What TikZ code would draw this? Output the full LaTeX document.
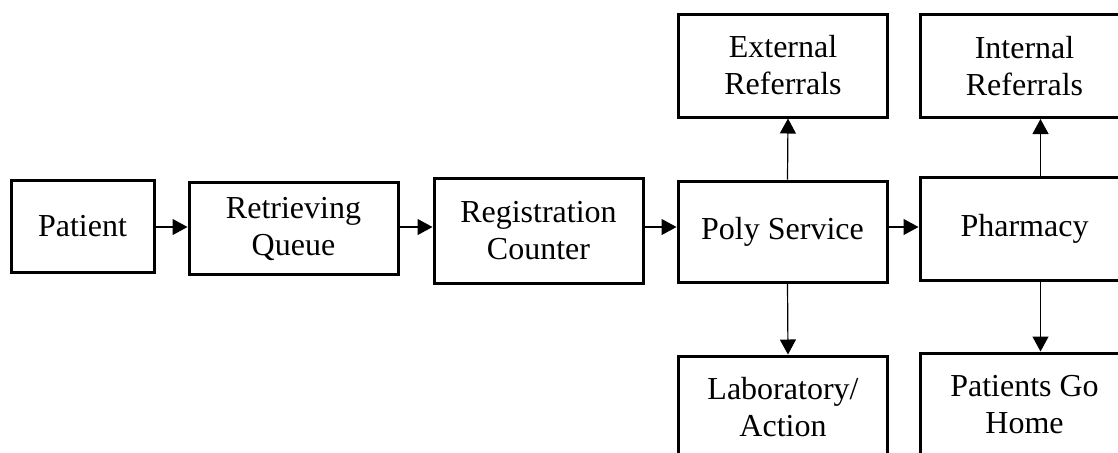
\documentclass[tikz,border=0pt]{standalone}
\usepackage{fontspec}
\setmainfont{Liberation Serif}
\usetikzlibrary{arrows.meta, positioning}

\begin{document}
\begin{tikzpicture}[x=0.5pt, y=-0.5pt,
  box/.style={draw, line width=1.5pt, align=center, minimum width=104.5pt, minimum height=51.5pt, inner sep=2pt, font=\fontsize{16}{18.5}\selectfont},
  arr/.style={-{Triangle[length=7.5pt,width=8pt]}, line width=0.6pt}]
\useasboundingbox (0,0) rectangle (1118,452);
\clip (0,0) rectangle (1118,452);
% Main row
\node[box, minimum width=71.5pt, minimum height=46pt] (Patient) at (82.5,226) {Patient};
\node[box, minimum height=46pt] (Queue) at (293.5,228.5) {Retrieving\\Queue};
\node[box, minimum height=52.5pt] (Counter) at (538.5,230.5) {Registration\\Counter};
\node[box, minimum height=50.5pt] (Poly) at (782.5,231.5) {Poly Service};
\node[box] (Pharmacy) at (1024.5,228.5) {Pharmacy};
\coordinate (row) at (0,227);
% Branches
\node[box] (External) at (783,65.5) {External\\Referrals};
\node[box] (Internal) at (1024.5,66) {Internal\\Referrals};
\node[box] (Lab) at (783,407.5) {Laboratory/\\Action};
\node[box] (Home) at (1024.5,404.5) {Patients Go\\Home};
% Arrows
\draw[arr] (Patient.east |- row) -- (Queue.west |- row);
\draw[arr] (Queue.east |- row) -- (Counter.west |- row);
\draw[arr] (Counter.east |- row) -- (Poly.west |- row);
\draw[arr] (Poly.east |- row) -- (Pharmacy.west |- row);
\draw[arr] ([xshift=2.5pt]Poly.north) -- ([xshift=2.5pt]External.south);
\draw[arr] ([xshift=2.5pt]Poly.south) -- ([xshift=2.5pt]Lab.north);
\draw[arr] ([xshift=8pt]Pharmacy.north) -- ([xshift=8pt]Internal.south);
\draw[arr] ([xshift=8pt]Pharmacy.south) -- ([xshift=8pt]Home.north);
\end{tikzpicture}
\end{document}
